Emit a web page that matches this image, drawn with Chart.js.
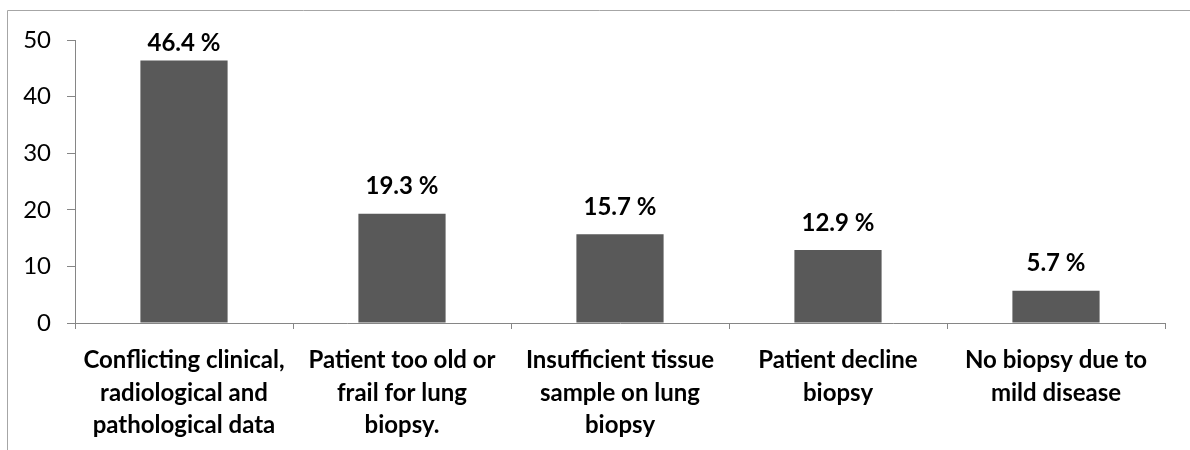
<!DOCTYPE html>
<html lang="en">
<head>
    <meta charset="UTF-8">
    <title>Reasons for no biopsy</title>
    <script src="https://cdn.jsdelivr.net/npm/chart.js@4.4.0/dist/chart.umd.min.js"></script>
    <style>
        body {
            margin: 0;
            background: #fff;
        }
        #wrap {
            width: 1190px;
            height: 450px;
        }
    </style>
</head>
<body>
    <div id="wrap">
        <canvas id="chart" width="1190" height="450"></canvas>
    </div>

    <script>
        const categories = [
            ["Conflicting clinical,", "radiological and", "pathological data"],
            ["Patient too old or", "frail for lung", "biopsy."],
            ["Insufficient tissue", "sample on lung", "biopsy"],
            ["Patient decline", "biopsy"],
            ["No biopsy due to", "mild disease"]
        ];
        const values = [46.4, 19.3, 15.7, 12.9, 5.7];
        const yTicks = [0, 10, 20, 30, 40, 50];

        const fontName = "Lato, 'Open Sans', sans-serif";
        const axisGrey = '#868686';

        // outer frame, only left and top edges are visible in the picture
        const framePlugin = {
            id: 'frame',
            beforeDraw(chart) {
                const ctx = chart.ctx;
                ctx.save();
                ctx.strokeStyle = '#a6a6a6';
                ctx.lineWidth = 1;
                ctx.beginPath();
                ctx.moveTo(7.5, 460);
                ctx.lineTo(7.5, 10.5);
                ctx.lineTo(1200, 10.5);
                ctx.stroke();
                ctx.restore();
            }
        };

        // value labels above the bars
        const labelPlugin = {
            id: 'valueLabels',
            afterDatasetsDraw(chart) {
                const ctx = chart.ctx;
                const meta = chart.getDatasetMeta(0);
                ctx.save();
                ctx.font = 'bold 24px ' + fontName;
                ctx.fillStyle = '#000';
                ctx.textAlign = 'center';
                ctx.textBaseline = 'middle';
                meta.data.forEach((bar, i) => {
                    let y = bar.y - 27;
                    if (y < chart.chartArea.top + 3) y = chart.chartArea.top + 3;
                    ctx.fillText(values[i].toFixed(1) + ' %', bar.x, y);
                });
                ctx.restore();
            }
        };

        new Chart(document.getElementById('chart'), {
            type: 'bar',
            data: {
                labels: categories,
                datasets: [{
                    data: values,
                    backgroundColor: '#595959',
                    categoryPercentage: 0.4,
                    barPercentage: 1.0
                }]
            },
            options: {
                responsive: false,
                animation: false,
                layout: {
                    padding: { left: 0, top: 40, right: 25, bottom: 0 }
                },
                plugins: {
                    legend: { display: false },
                    tooltip: { enabled: false }
                },
                scales: {
                    x: {
                        offset: true,
                        grid: {
                            offset: true,
                            drawOnChartArea: false,
                            drawTicks: true,
                            tickLength: 6,
                            color: axisGrey
                        },
                        border: { color: axisGrey },
                        ticks: {
                            color: '#000',
                            font: { family: fontName, size: 24, weight: 'bold', lineHeight: 1.36 },
                            padding: 15,
                            maxRotation: 0,
                            autoSkip: false
                        },
                        afterFit(scale) { scale.height = 127; }
                    },
                    y: {
                        min: yTicks[0],
                        max: yTicks[yTicks.length - 1],
                        afterBuildTicks(scale) {
                            scale.ticks = yTicks.map(v => ({ value: v }));
                        },
                        grid: {
                            drawOnChartArea: false,
                            drawTicks: true,
                            tickLength: 8,
                            color: axisGrey
                        },
                        border: { color: axisGrey },
                        ticks: {
                            color: '#000',
                            font: { family: fontName, size: 24 },
                            padding: 16
                        },
                        afterFit(scale) { scale.width = 75; }
                    }
                }
            },
            plugins: [framePlugin, labelPlugin]
        });
    </script>
</body>
</html>
